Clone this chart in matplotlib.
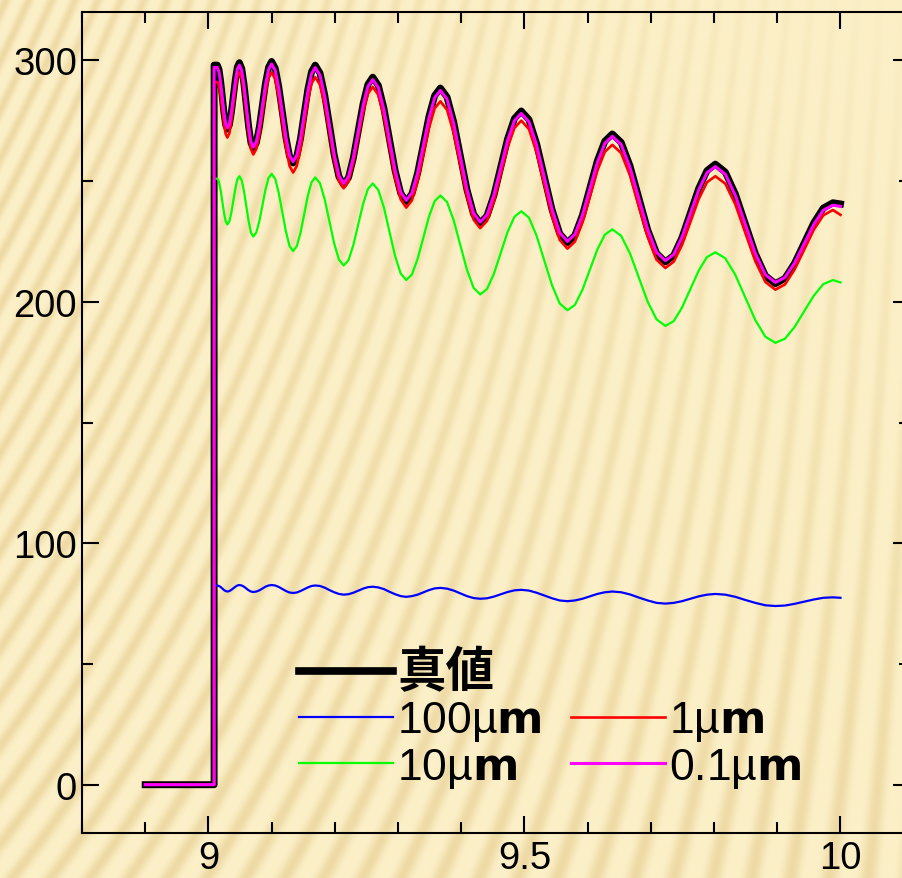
import numpy as np
import matplotlib
matplotlib.use("Agg")
import matplotlib.pyplot as plt
from matplotlib.ticker import MultipleLocator, FormatStrFormatter
from matplotlib.lines import Line2D
from matplotlib.font_manager import FontProperties

plt.rcParams['font.family'] = ['Liberation Sans', 'Noto Sans CJK JP', 'DejaVu Sans']
plt.rcParams['mathtext.fontset'] = 'custom'
plt.rcParams['mathtext.rm'] = 'Liberation Sans'
plt.rcParams['mathtext.bf'] = 'DejaVu Sans:bold'

# time axis (same sampling for every series)
t = [8.900, 9.009, 9.009, 9.014,
     9.0167, 9.0193, 9.0220, 9.0247, 9.0273, 9.030,
     9.0332, 9.0363, 9.0395, 9.0427, 9.0458, 9.049,
     9.0527, 9.0563, 9.0600, 9.0637, 9.0673, 9.071,
     9.0758, 9.0807, 9.0855, 9.0903, 9.0952, 9.100,
     9.1057, 9.1113, 9.1170, 9.1227, 9.1283, 9.134,
     9.1398, 9.1457, 9.1515, 9.1573, 9.1632, 9.169,
     9.1765, 9.1840, 9.1915, 9.1990, 9.2065, 9.214,
     9.2217, 9.2293, 9.2370, 9.2447, 9.2523, 9.260,
     9.2688, 9.2777, 9.2865, 9.2953, 9.3042, 9.313,
     9.3220, 9.3310, 9.3400, 9.3490, 9.3580, 9.367,
     9.3775, 9.3880, 9.3985, 9.4090, 9.4195, 9.430,
     9.4408, 9.4517, 9.4625, 9.4733, 9.4842, 9.495,
     9.5072, 9.5193, 9.5315, 9.5437, 9.5558, 9.568,
     9.5798, 9.5917, 9.6035, 9.6153, 9.6272, 9.639,
     9.6530, 9.6670, 9.6810, 9.6950, 9.7090, 9.723,
     9.7362, 9.7493, 9.7625, 9.7757, 9.7888, 9.802,
     9.8178, 9.8337, 9.8495, 9.8653, 9.8812, 9.897,
     9.9122, 9.9273, 9.9425, 9.9577, 9.9728, 9.988,
     10.000]

true_val = [0, 0, 298, 298,
            296.2, 291.4, 284.75, 278.1, 273.3, 271.5,
            273.3, 278.4, 285.25, 292.1, 297.2, 299,
            296.6, 290.1, 281.25, 272.4, 265.9, 263.5,
            265.9, 272.5, 281.5, 290.5, 297.1, 299.5,
            296.7, 289.0, 278.5, 268.0, 260.3, 257.5,
            260.2, 267.6, 277.75, 287.9, 295.3, 298,
            294.7, 285.6, 273.25, 260.9, 251.8, 248.5,
            251.5, 259.6, 270.75, 281.9, 290.0, 293,
            289.6, 280.1, 267.25, 254.4, 245.0, 241.5,
            244.7, 253.3, 265.0, 276.8, 285.4, 288.5,
            284.8, 274.5, 260.5, 246.5, 236.3, 232.5,
            235.6, 244.1, 255.75, 267.4, 275.9, 279,
            275.4, 265.4, 251.75, 238.1, 228.2, 224.5,
            227.5, 235.8, 247.0, 258.3, 266.5, 269.5,
            266.0, 256.3, 243.0, 229.8, 220.1, 216.5,
            219.2, 226.6, 236.75, 246.9, 254.3, 257,
            253.7, 244.6, 232.25, 219.9, 210.8, 207.5,
            209.7, 215.9, 224.25, 232.6, 238.8, 241,
            240.5]

um100 = [0, 0, 82.5, 82.5,
         82.3, 81.9, 81.25, 80.6, 80.2, 80,
         80.2, 80.7, 81.35, 82.0, 82.5, 82.7,
         82.5, 82.0, 81.25, 80.5, 80.0, 79.8,
         80.0, 80.5, 81.25, 82.0, 82.5, 82.7,
         82.5, 81.9, 81.05, 80.2, 79.6, 79.4,
         79.6, 80.2, 80.95, 81.7, 82.3, 82.5,
         82.3, 81.6, 80.6, 79.7, 79.0, 78.7,
         78.9, 79.5, 80.35, 81.2, 81.8, 82,
         81.7, 81.0, 79.9, 78.9, 78.1, 77.8,
         78.1, 78.7, 79.65, 80.6, 81.3, 81.5,
         81.2, 80.4, 79.25, 78.1, 77.3, 77,
         77.2, 77.9, 78.85, 79.8, 80.5, 80.7,
         80.4, 79.5, 78.35, 77.2, 76.3, 76,
         76.3, 77.0, 78.0, 79.0, 79.7, 80,
         79.7, 78.8, 77.5, 76.3, 75.3, 75,
         75.3, 76.0, 77.0, 78.0, 78.7, 79,
         78.7, 77.8, 76.5, 75.3, 74.3, 74,
         74.2, 74.9, 75.8, 76.7, 77.4, 77.6,
         77.4]

um10 = [0, 0, 251, 251,
        249.7, 246.3, 241.5, 236.8, 233.3, 232,
        233.3, 237.0, 242.0, 247.0, 250.7, 252,
        250.3, 245.8, 239.5, 233.3, 228.7, 227,
        228.7, 233.5, 240.0, 246.5, 251.3, 253,
        250.9, 245.0, 237.0, 229.0, 223.1, 221,
        223.0, 228.6, 236.25, 243.9, 249.5, 251.5,
        249.1, 242.4, 233.25, 224.1, 217.5, 215,
        217.3, 223.5, 232.0, 240.5, 246.7, 249,
        246.3, 239.0, 229.0, 219.0, 211.7, 209,
        211.3, 217.8, 226.5, 235.3, 241.7, 244,
        241.3, 233.8, 223.5, 213.3, 205.8, 203,
        205.3, 211.6, 220.25, 228.9, 235.2, 237.5,
        234.8, 227.3, 217.0, 206.8, 199.3, 196.5,
        198.7, 204.9, 213.25, 221.6, 227.8, 230,
        227.3, 220.0, 210.0, 200.0, 192.7, 190,
        192.0, 197.6, 205.25, 212.9, 218.5, 220.5,
        218.0, 211.1, 201.75, 192.4, 185.5, 183,
        184.7, 189.5, 196.0, 202.5, 207.3, 209,
        208]

um1 = [0, 0, 291, 291,
       289.5, 285.3, 279.5, 273.8, 269.5, 268,
       269.8, 274.8, 281.5, 288.3, 293.2, 295,
       292.7, 286.5, 278.0, 269.5, 263.3, 261,
       263.3, 269.5, 278.0, 286.5, 292.7, 295,
       292.2, 284.6, 274.25, 263.9, 256.3, 253.5,
       256.2, 263.4, 273.25, 283.1, 290.4, 293,
       289.9, 281.5, 270.0, 258.5, 250.1, 247,
       249.8, 257.5, 268.0, 278.5, 286.2, 289,
       285.7, 276.5, 264.0, 251.5, 242.4, 239,
       242.0, 250.0, 261.0, 272.0, 280.1, 283,
       279.5, 269.9, 256.75, 243.6, 234.0, 230.5,
       233.5, 241.6, 252.75, 263.9, 272.0, 275,
       271.5, 261.8, 248.5, 235.3, 225.6, 222,
       224.9, 232.8, 243.5, 254.3, 262.1, 265,
       261.6, 252.3, 239.5, 226.8, 217.4, 214,
       216.6, 223.5, 233.0, 242.5, 249.5, 252,
       248.9, 240.3, 228.5, 216.8, 208.2, 205,
       207.2, 213.3, 221.5, 229.8, 235.8, 238,
       236]

um01 = [0, 0, 297, 297,
        295.3, 290.8, 284.5, 278.3, 273.7, 272,
        273.7, 278.5, 285.0, 291.5, 296.3, 298,
        295.7, 289.5, 281.0, 272.5, 266.3, 264,
        266.3, 272.6, 281.25, 289.9, 296.2, 298.5,
        295.8, 288.4, 278.25, 268.1, 260.7, 258,
        260.6, 267.8, 277.5, 287.3, 294.4, 297,
        293.8, 285.0, 273.0, 261.0, 252.2, 249,
        251.9, 259.8, 270.5, 281.3, 289.1, 292,
        288.7, 279.5, 267.0, 254.5, 245.4, 242,
        245.1, 253.4, 264.75, 276.1, 284.5, 287.5,
        283.9, 273.9, 260.25, 246.6, 236.7, 233,
        236.0, 244.3, 255.5, 266.8, 275.0, 278,
        274.5, 264.8, 251.5, 238.3, 228.6, 225,
        227.9, 235.9, 246.75, 257.6, 265.6, 268.5,
        265.1, 255.6, 242.75, 229.9, 220.5, 217,
        219.6, 226.8, 236.5, 246.3, 253.4, 256,
        252.8, 244.0, 232.0, 220.0, 211.2, 208,
        210.1, 216.0, 224.0, 232.0, 237.9, 240,
        239.5]

W, H = 902, 879
fig = plt.figure(figsize=(W / 100, H / 100), dpi=100)

# striped beige backdrop
yy, xx = np.mgrid[0:H, 0:W].astype(float)
slant = 0.42 * (1 - xx / W) + 0.05
phase = xx + slant * yy
s = ((1 + np.sin(2 * np.pi * phase / 23.0)) / 2) ** 2
amp = 1 - 0.92 * (xx / W) * (1 - yy / H)
light = np.array([252, 240, 200]) / 255
dark = np.array([234, 212, 155]) / 255
mix = (s * amp)[..., None] * 0.8
tex = light * (1 - mix) + dark * mix
bg = fig.add_axes([0, 0, 1, 1], zorder=-5)
bg.imshow(tex, aspect='auto')
bg.axis('off')

ax = fig.add_axes([82 / W, 45 / H, 828 / W, 821 / H])
ax.set_facecolor('none')

ax.plot(t, true_val, color='black', lw=5.0, label='真値', zorder=2, solid_joinstyle='round')
ax.plot(t, um100, color='#0000ff', lw=1.6, label='100µ$\\mathbf{m}$', zorder=3)
ax.plot(t, um10, color='#00ff00', lw=1.6, label='10µ$\\mathbf{m}$', zorder=3)
ax.plot(t, um1, color='#ff0000', lw=1.9, label='1µ$\\mathbf{m}$', zorder=3)
ax.plot(t, um01, color='#ff00ff', lw=2.2, label='0.1µ$\\mathbf{m}$', zorder=4)

ax.set_xlim(8.8, 10.11)
ax.set_ylim(-20, 320)
ax.xaxis.set_major_locator(MultipleLocator(0.5))
ax.xaxis.set_minor_locator(MultipleLocator(0.1))
ax.xaxis.set_major_formatter(FormatStrFormatter('%g'))
ax.yaxis.set_major_locator(MultipleLocator(100))
ax.yaxis.set_minor_locator(MultipleLocator(50))
ax.tick_params(which='both', direction='in', top=True, right=True, width=1.5, labelsize=27.5)
ax.tick_params(which='major', length=12.2)
ax.tick_params(which='minor', length=7.9)
ax.tick_params(axis='y', pad=3.5)
ax.tick_params(axis='x', pad=5)
for sp in ax.spines.values():
    sp.set_linewidth(1.5)

h, l = ax.get_legend_handles_labels()
blank = Line2D([], [], color='none')
handles = [h[0], h[1], h[2], blank, h[3], h[4]]
labels = [l[0], l[1], l[2], '真値', l[3], l[4]]
leg = ax.legend(handles, labels, ncol=2, loc='upper left', bbox_to_anchor=(0.262, 0.226),
                frameon=False, fontsize=32, borderpad=0, borderaxespad=0,
                handlelength=2.12, handletextpad=0.09, columnspacing=0.65, labelspacing=0.06)
cjk = FontProperties(family='Noto Sans CJK JP', weight='bold', size=35)
leg.get_texts()[0].set_fontproperties(cjk)
leg.get_texts()[3].set_fontproperties(cjk)
leg.get_texts()[3].set_alpha(0)
leg.get_lines()[0].set_linewidth(5.5)

fig.savefig('out.png', dpi=100)
